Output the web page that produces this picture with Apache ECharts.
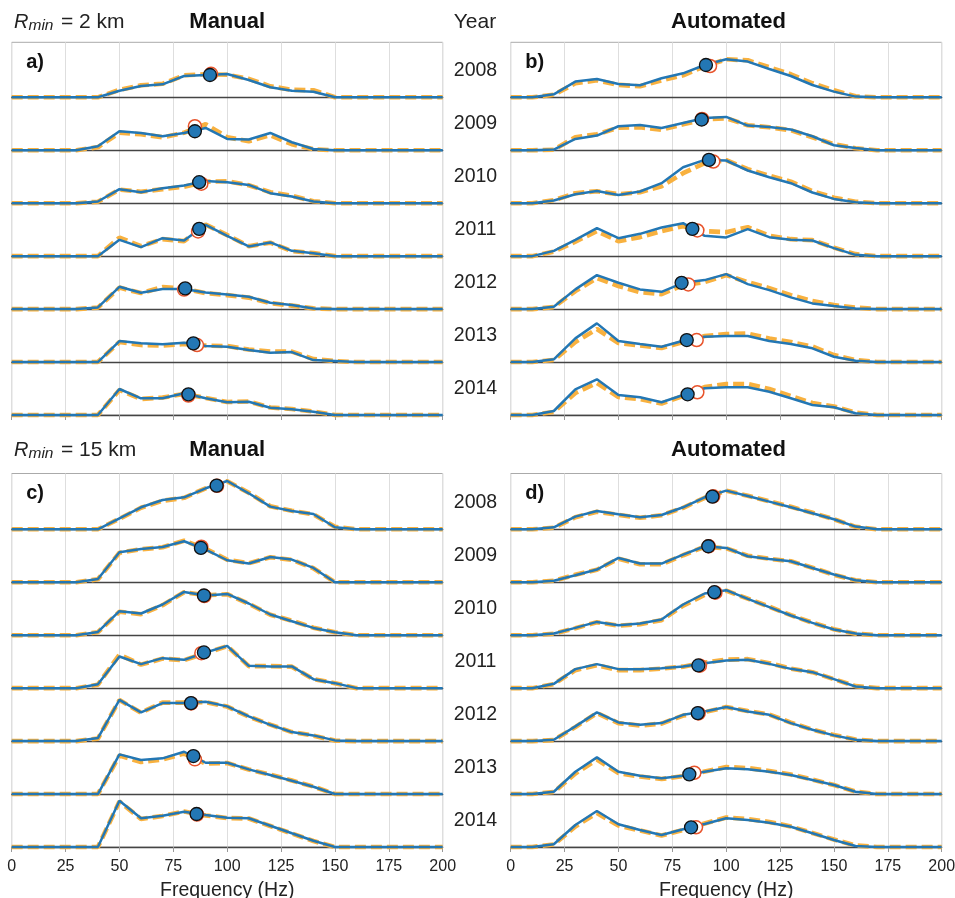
<!DOCTYPE html>
<html><head><meta charset="utf-8">
<script src="https://cdn.jsdelivr.net/npm/echarts@6/dist/echarts.min.js"></script>
<style>html,body{margin:0;padding:0;background:#fff}#c{width:955px;height:898px}</style>
</head><body><div id="c"></div>
<script>
const freq = [0,10,20,30,40,50,60,70,80,90,100,110,120,130,140,150,160,170,180,190,200];
const years = ['2008','2009','2010','2011','2012','2013','2014'];

// Panel a: Manual, Rmin = 2 km
const aBlue = [
 [0,0,0,0,0,6.6,11.3,13,21.3,22.3,23.3,17.3,10,6.6,5.6,0,0,0,0,0,0],
 [0,0,0,0,4,19,17.3,14,17.3,22.3,11.3,10.7,17.3,8,1.3,0,0,0,0,0,0],
 [0,0,0,0,1.7,14,11,15,17.7,22.3,21,18.3,10,6.7,1.7,0,0,0,0,0,0],
 [0,0,0,0,0,16.3,9,18,15.7,31.3,20.3,9.7,13.7,5.3,3,0,0,0,0,0,0],
 [0,0,0,0,1.7,22.3,16.3,20,20,16.7,14.7,12.3,6.3,4,0.7,0,0,0,0,0,0],
 [0,0,0,0,0,21,18.7,17.7,19.3,16,15.3,12,9.3,10,2,1,0,0,0,0,0],
 [0,0,0,0,0,26,16.7,16.7,21.7,16.7,12.7,13.3,7.3,5.7,3.3,0,0,0,0,0,0]
];
const aOrange = [
 [0,0,0,0,0,7.5,12,13.5,22,23,22.5,18.5,11,7.5,7,0,0,0,0,0,0],
 [0,0,0,0,3,17.5,16,13,17.5,26,13,9,15,6,1,0,0,0,0,0,0],
 [0,0,0,0,1.5,13.5,11.5,14,16.5,21.5,22,18,11,7.5,2,0,0,0,0,0,0],
 [0,0,0,0,0,18.5,10,17,15,31.5,21,10,13.5,5,3,0,0,0,0,0,0],
 [0,0,0,0,1.5,21.5,16,22,20.5,16,14,11.5,6,3.5,0.7,0,0,0,0,0,0],
 [0,0,0,0,0,20,17,16.5,18,16.5,16,12.5,10.5,10.5,3,1,0,0,0,0,0],
 [0,0,0,0,0,25,16,17.5,21,17,13,13.5,7.5,6,3.5,0,0,0,0,0,0]
];
const aBlueMeanF = [92,85,87,87,80.5,84.3,82];
const aBlueMeanH = [22.3,19,21,27.3,20.7,18.7,20.7];
const aOrangeMeanF = [92.5,85,88,86.5,80,86,82];
const aOrangeMeanH = [23.5,24,19.5,24.7,19.5,17,19.5];

// Panel b: Automated, Rmin = 2 km
const bBlue = [
 [0,0,3,15.7,18.3,13.3,12,19,24,32.3,38,35.7,28.3,21.3,12.3,5.7,0.7,0,0,0,0],
 [0,0,0.7,11.3,14.7,24,25.3,22.3,27.3,32.3,33.3,24.7,23.3,20.7,14,5,2.3,0,0,0,0],
 [0,0,2.7,9,12.3,8.3,11.7,20,36,43.3,42.7,32.7,26,20,10.7,4.3,1,0,0,0,0],
 [0,0,5.3,16.3,28,18,22.3,28.7,33,20.3,18.7,27,19,16.3,15.7,8,1.3,0,0,0,0],
 [0,0,2.3,19.7,34,26.3,19.7,17.3,26.3,29,35,25,19,11.7,5.7,3,0.7,0,0,0,0],
 [0,0,2.7,23.7,38.7,21,18,15.3,21.3,25.3,26,26,21,18,13.7,5.3,1.3,0,0,0,0],
 [0,0,4,25.7,35.7,20,17.7,12.7,20,26.7,27.7,27.7,23.3,16.7,10,7.7,1.7,0,0,0,0]
];
const bOrange = [
 [0,0,2.5,14,17,12.5,11,17,22,31,38,37,30,23,14,7,1,0,0,0,0],
 [0,0,0.5,13,16,22.5,23,20.5,26,31,32,25,23,20,13,6,2,0,0,0,0],
 [0,0,3,10,12,9,11,17,30,40,43,34,27.5,21.5,12,5.5,1.5,0,0,0,0],
 [0,0,4.5,14.5,25,15,19,25,30,25,24,29,20.5,17,16,8.5,2,0,0,0,0],
 [0,0,2,18,31,23,17,15,24,27,34,27,21,14,8,4,1.5,0,0,0,0],
 [0,0,2,20,33,19,16.5,14,20,26,28,28.5,23.5,20,15.5,7,2,0,0,0,0],
 [0,0,3,22,32,18,16,11.5,19,28,31,31,26,19,12,8.5,2.5,0,0,0,0]
];
const bBlueMeanF = [90.6,88.6,92,84.3,79.3,81.7,82.1];
const bBlueMeanH = [32.3,30.7,43.3,27.3,26.3,22,20.7];
const bOrangeMeanF = [92.5,88.8,94,86.6,82.4,86.3,86.6];
const bOrangeMeanH = [31.3,31.3,41.7,25.7,24.7,22,22.7];

// Panel c: Manual, Rmin = 15 km
const cBlue = [
 [0,0,0,0,0,11,22,29.3,32,41,48.3,36,22.7,18.3,15.3,2,0,0,0,0,0],
 [0,0,0,0,3.3,30,33.3,35.3,41,32.7,22,18.7,25.3,22.7,14.3,0,0,0,0,0,0],
 [0,0,0,0,3.3,24,21.7,30.7,43.3,39.7,41.3,31.7,20.7,14,7.3,3,0,0,0,0,0],
 [0,0,0,0,4,31.7,24,30,28.3,35.7,42.3,22.3,21.7,21.7,9,5,0,0,0,0,0],
 [0,0,0,0,3,41.3,28.7,38,38,39.3,34.7,24.7,16.3,9,5.7,0.7,0,0,0,0,0],
 [0,0,0,0,0,39.7,34,35.7,42.3,31.3,31.3,24.7,19,13.3,7.3,0,0,0,0,0,0],
 [0,0,0,0,0,46.3,28.7,31.3,35.3,32,29.3,28.7,21.3,13.7,6.3,0,0,0,0,0,0]
];
const cOrange = [
 [0,0,0,0,0,10.5,21.5,28.5,31.5,41,48,36.5,23,18.5,15,2.5,0,0,0,0,0],
 [0,0,0,0,3,29.5,33,35,41.5,33.5,22.5,19,25,22.5,14,0,0,0,0,0,0],
 [0,0,0,0,3,23.5,21,30,43,40,41,31.5,20.5,14.5,7.5,3,0,0,0,0,0],
 [0,0,0,0,3.5,33.5,23.5,29.5,28,35,42,22,22,21.5,9,5,0,0,0,0,0],
 [0,0,0,0,2.5,41,28.5,38.5,38.5,39,34.5,24.5,16.5,9,5.5,0.5,0,0,0,0,0],
 [0,0,0,0,0,38.5,32,34.5,40.5,30.5,31,24.5,19.5,13.5,7.5,0,0,0,0,0,0],
 [0,0,0,0,0,45.5,28,31,35.5,31.5,29,28.5,21,13.5,6,0,0,0,0,0,0]
];
const cBlueMeanF = [95.1,87.8,89.2,89.2,83.2,84.3,85.8];
const cBlueMeanH = [43.7,34.3,39.7,35.7,38,38,33];
const cOrangeMeanF = [95.3,88,89.4,88,83.3,85,86];
const cOrangeMeanH = [43.5,35.5,39.2,35,37.7,34.7,32.5];

// Panel d: Automated, Rmin = 15 km
const dBlue = [
 [0,0,2,12.7,18.3,15,12,14.3,22,32,38.7,33.3,27.7,22,16,10,2.7,0,0,0,0],
 [0,0,1.5,7,12.7,24.3,18.7,18.7,27.7,36,34.3,26,23.3,21,14.3,7.7,2,0,0,0,0],
 [0,0,1.7,7.3,13.3,10,11.7,15.7,30.7,41.7,45,36.3,28,19.7,12.3,5.7,1.7,0,0,0,0],
 [0,0,4.3,19,24,19,19,20,21.7,25,27.7,28.3,24.3,19.3,16,9,1.7,0,0,0,0],
 [0,0,1.3,14.7,28.7,18.7,16.3,18,26.3,29.7,34,29.7,26.3,18,11.3,5.7,1.3,0,0,0,0],
 [0,0,2.3,22.3,36.7,22.3,18.3,15.7,18.3,22.3,25.7,24.7,22.3,19,14,9,2.3,0,0,0,0],
 [0,0,2.7,22,36,22.7,17,12,17.7,23,28.7,27,24.3,20.3,13.7,7,1,0,0,0,0]
];
const dOrange = [
 [0,0,1.5,12,17.5,14.5,11.5,14,21.5,31.5,38.5,33.5,28,22.5,16.5,10,2.5,0,0,0,0],
 [0,0,1.5,7.5,12.5,23.5,18,18,27,35.5,34,26.5,23.5,21,14.5,7.5,2,0,0,0,0],
 [0,0,1.5,7,13,9.5,11,15,29.5,40.5,44.5,36.5,28.5,20,12.5,6,1.5,0,0,0,0],
 [0,0,4,18,23,18,18,19.5,21.5,25.5,28.5,29,25,19.5,16,9,2,0,0,0,0],
 [0,0,1,14,28,18,15.5,17.5,25.5,29,34,30,26.5,18.5,11.5,6,1.5,0,0,0,0],
 [0,0,2,20.5,34.5,21,17.5,15,18,22.5,27,26,23,19.5,14.5,9,2.5,0,0,0,0],
 [0,0,2.5,20.5,34,21.5,16.5,11.5,17,23.5,29.5,28,25,20.5,14,7.5,1.5,0,0,0,0]
];
const dBlueMeanF = [93.6,91.7,94.5,87.1,86.8,82.9,83.7];
const dBlueMeanH = [32.7,36,43,22.7,28,19.7,19.7];
const dOrangeMeanF = [94,91.9,95,87.8,87.2,85.2,86];
const dOrangeMeanH = [33,36,42.5,22.5,27.7,21.3,19.7];

const BLUE = '#2377b4', ORANGE = '#f8b13f', OPEN = '#e8532b';
const FONT = 'Liberation Sans, Arial, Helvetica, sans-serif';
const ROW_H = 53, ROW_STEP = 52.95, PANEL_W = 431;

const panels = [
  {tag:'a)', left:11.7, top:42.3, height:372.7, base0:97.3, blue:aBlue, orange:aOrange, bf:aBlueMeanF, bh:aBlueMeanH, of:aOrangeMeanF, oh:aOrangeMeanH, labels:false},
  {tag:'b)', left:510.7, top:42.3, height:372.7, base0:97.3, blue:bBlue, orange:bOrange, bf:bBlueMeanF, bh:bBlueMeanH, of:bOrangeMeanF, oh:bOrangeMeanH, labels:false},
  {tag:'c)', left:11.7, top:473.5, height:373.5, base0:529.3, blue:cBlue, orange:cOrange, bf:cBlueMeanF, bh:cBlueMeanH, of:cOrangeMeanF, oh:cOrangeMeanH, labels:true},
  {tag:'d)', left:510.7, top:473.5, height:373.5, base0:529.3, blue:dBlue, orange:dOrange, bf:dBlueMeanF, bh:dBlueMeanH, of:dOrangeMeanF, oh:dOrangeMeanH, labels:true}
];

const grid = [], xAxis = [], yAxis = [], series = [], graphic = [];
panels.forEach(p => {
  const gi = grid.length;
  grid.push({left:p.left, top:p.top, width:PANEL_W, height:p.height, show:true, borderColor:'#aaaaaa', borderWidth:1,
    backgroundColor:'rgba(0,0,0,0)', containLabel:false, outerBoundsMode:'none'});
  xAxis.push({gridIndex:gi, type:'value', min:0, max:200, interval:25,
    axisLine:{show:false}, axisTick:{show:true, length:5, lineStyle:{color:'#999'}},
    splitLine:{show:true, lineStyle:{color:'#dedede', width:1}},
    axisLabel:{show:p.labels, fontSize:16, color:'#222', margin:12, fontFamily:FONT},
    name:p.labels ? 'Frequency (Hz)' : '', nameLocation:'middle', nameGap:34,
    nameTextStyle:{fontSize:19.5, color:'#222', fontFamily:FONT}});
  yAxis.push({gridIndex:gi, type:'value', min:0, max:1, show:false, splitLine:{show:false}});
  for (let r = 0; r < 7; r++) {
    const base = p.base0 + r * ROW_STEP;
    const g = grid.length;
    grid.push({left:p.left, top:base - ROW_H, width:PANEL_W, height:ROW_H, containLabel:false, outerBoundsMode:'none'});
    xAxis.push({gridIndex:g, type:'value', min:0, max:200,
      axisLine:{show:true, lineStyle:{color:'#444', width:1.3}},
      axisTick:{show:false}, axisLabel:{show:false}, splitLine:{show:false}});
    yAxis.push({gridIndex:g, type:'value', min:0, max:ROW_H, show:false, splitLine:{show:false}});
    series.push({type:'line', xAxisIndex:g, yAxisIndex:g, clip:false, symbol:'none', silent:true, z:2,
      data:freq.map((f,i)=>[f, p.orange[r][i]]),
      lineStyle:{color:ORANGE, width:4.6, type:[11,5]}});
    series.push({type:'line', xAxisIndex:g, yAxisIndex:g, clip:false, symbol:'none', silent:true, z:3,
      data:freq.map((f,i)=>[f, p.blue[r][i]]),
      lineStyle:{color:BLUE, width:2.5}});
    series.push({type:'scatter', xAxisIndex:g, yAxisIndex:g, clip:false, silent:true, z:4, symbolSize:13,
      data:[[p.of[r], p.oh[r]]],
      itemStyle:{color:'#fff', borderColor:OPEN, borderWidth:1.5, opacity:1}});
    series.push({type:'scatter', xAxisIndex:g, yAxisIndex:g, clip:false, silent:true, z:5, symbolSize:13,
      data:[[p.bf[r], p.bh[r]]],
      itemStyle:{color:BLUE, borderColor:'#111', borderWidth:1.3, opacity:1}});
    if (p.left > 300) {
      graphic.push({type:'text', x:475.5, y:base - 26.5, z:10,
        style:{text:years[r], fill:'#222', font:'19.5px ' + FONT, textAlign:'center', textVerticalAlign:'middle'}});
    }
  }
  graphic.push({type:'text', x:p.left + 14.5, y:p.top + 20, z:10,
    style:{text:p.tag, fill:'#111', font:'bold 20px ' + FONT, textAlign:'left', textVerticalAlign:'middle'}});
});

function header(y, km) {
  graphic.push({type:'text', x:14, y:y, style:{text:'R', fill:'#222', font:'italic 20px ' + FONT, textAlign:'left', textVerticalAlign:'middle'}});
  graphic.push({type:'text', x:28.5, y:y + 3.5, style:{text:'min', fill:'#222', font:'italic 15.5px ' + FONT, textAlign:'left', textVerticalAlign:'middle'}});
  graphic.push({type:'text', x:61, y:y, style:{text:'= ' + km + ' km', fill:'#222', font:'21px ' + FONT, textAlign:'left', textVerticalAlign:'middle'}});
  graphic.push({type:'text', x:227.2, y:y, style:{text:'Manual', fill:'#111', font:'bold 22px ' + FONT, textAlign:'center', textVerticalAlign:'middle'}});
  graphic.push({type:'text', x:728.5, y:y, style:{text:'Automated', fill:'#111', font:'bold 22px ' + FONT, textAlign:'center', textVerticalAlign:'middle'}});
}
header(22, 2);
header(450, 15);
graphic.push({type:'text', x:475, y:22, style:{text:'Year', fill:'#222', font:'21px ' + FONT, textAlign:'center', textVerticalAlign:'middle'}});

const chart = echarts.init(document.getElementById('c'), null, {renderer:'canvas'});
chart.setOption({animation:false, textStyle:{fontFamily:FONT}, grid, xAxis, yAxis, series, graphic});
</script></body></html>
